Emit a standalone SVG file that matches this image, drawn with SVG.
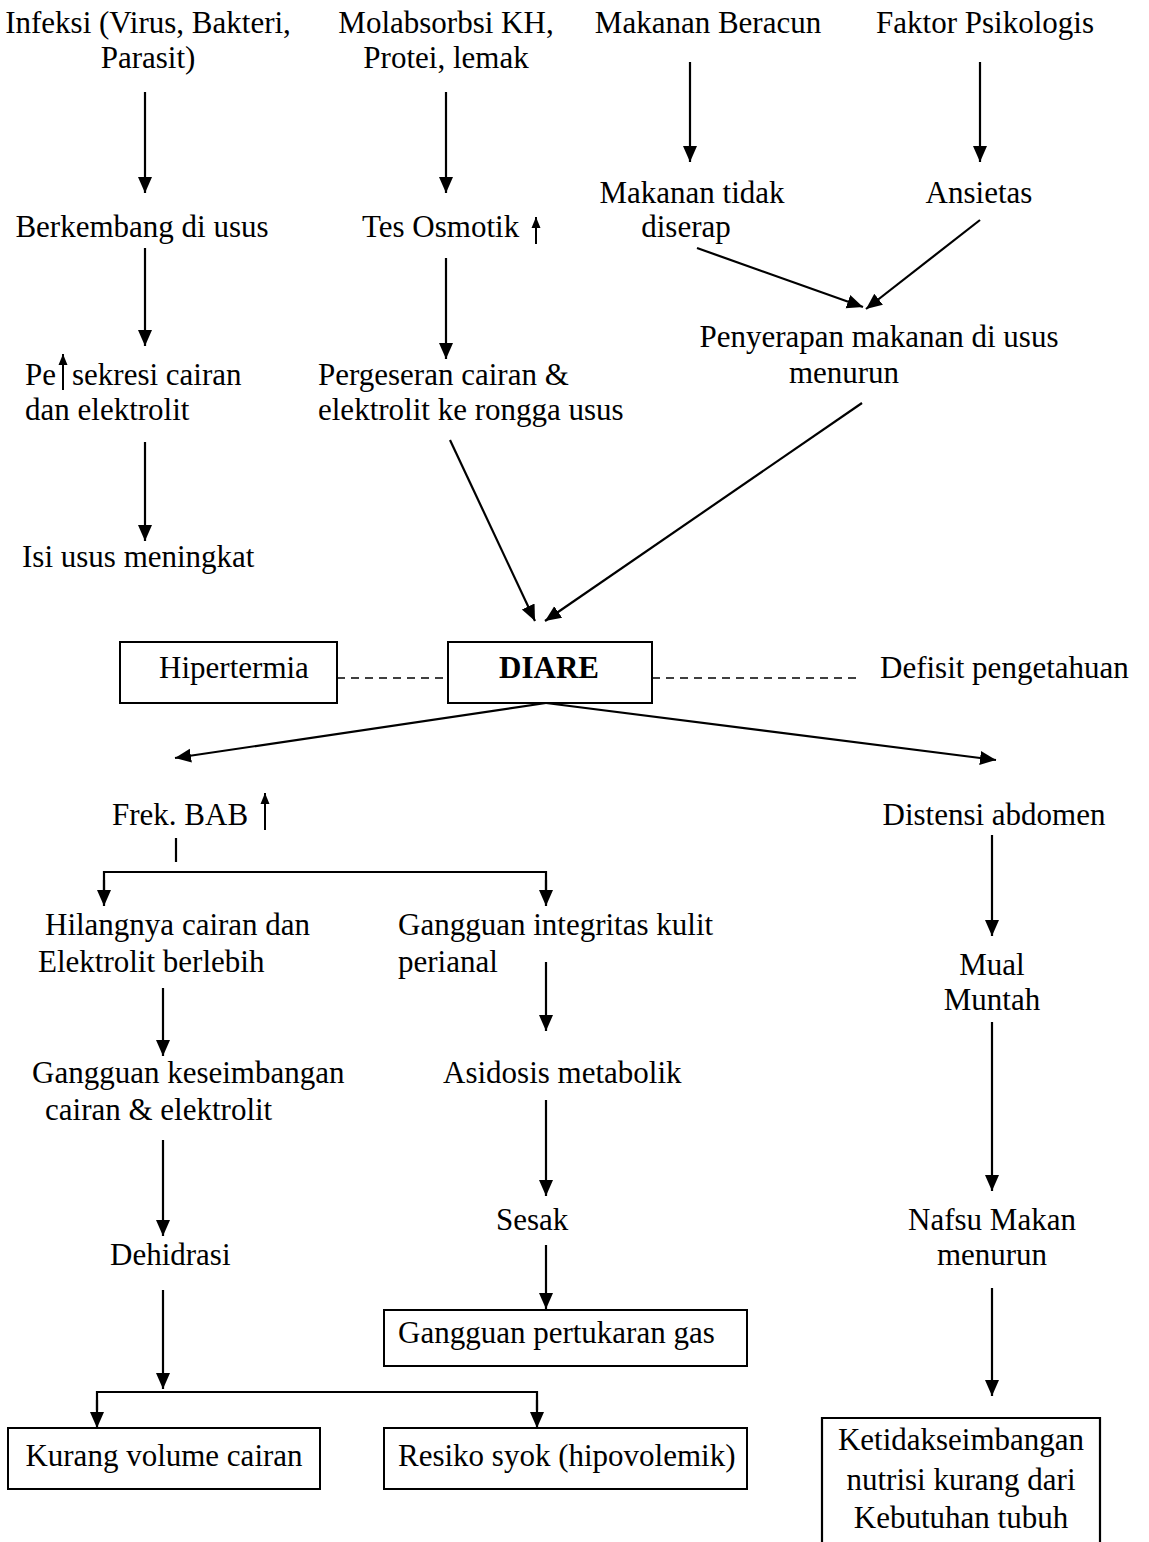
<svg xmlns="http://www.w3.org/2000/svg" width="1149" height="1542" viewBox="0 0 1149 1542">
<style>
text{font-family:"Liberation Serif","Times New Roman",serif;font-size:31px;fill:#000}
.c{text-anchor:middle}
.b{font-weight:bold}
.ln{stroke:#000;stroke-width:2.2;fill:none}
.ar{stroke:#000;stroke-width:2.2;fill:none;marker-end:url(#ah)}
.up{stroke:#000;stroke-width:2;fill:none;marker-end:url(#uh)}
.dash{stroke:#000;stroke-width:1.5;stroke-dasharray:8,6;fill:none}
.box{fill:#fff;stroke:#000;stroke-width:2}
</style>
<defs>
<marker id="ah" markerWidth="16" markerHeight="16" refX="16" refY="8" orient="auto" markerUnits="userSpaceOnUse"><path d="M0,1 L16,8 L0,15 z" fill="#000"/></marker>
<marker id="uh" markerWidth="11" markerHeight="10" refX="11" refY="5" orient="auto" markerUnits="userSpaceOnUse"><path d="M0,0.5 L11,5 L0,9.5 z" fill="#000"/></marker>
</defs>
<rect width="1149" height="1542" fill="#fff"/>

<g id="connectors">
<line class="ar" x1="145" y1="92" x2="145" y2="193"/>
<line class="ar" x1="446" y1="92" x2="446" y2="193"/>
<line class="ar" x1="690" y1="62" x2="690" y2="162"/>
<line class="ar" x1="980" y1="62" x2="980" y2="162"/>
<line class="ar" x1="697" y1="248" x2="863" y2="307"/>
<line class="ar" x1="980" y1="220" x2="866" y2="309"/>
<line class="ar" x1="145" y1="248" x2="145" y2="346"/>
<line class="ar" x1="446" y1="258" x2="446" y2="359"/>
<line class="ar" x1="145" y1="442" x2="145" y2="541"/>
<line class="ar" x1="450" y1="440" x2="535" y2="621"/>
<line class="ar" x1="862" y1="403" x2="545" y2="621"/>
<line class="dash" x1="337" y1="678" x2="448" y2="678"/>
<line class="dash" x1="652" y1="678" x2="858" y2="678"/>
<line class="ar" x1="546" y1="703" x2="175" y2="758"/>
<line class="ar" x1="546" y1="703" x2="996" y2="760"/>
<line class="ln" x1="176" y1="838" x2="176" y2="862"/>
<polyline class="ln" points="104,893 104,872 546,872 546,893"/>
<line class="ar" x1="104" y1="880" x2="104" y2="906"/>
<line class="ar" x1="546" y1="880" x2="546" y2="906"/>
<line class="ar" x1="163" y1="988" x2="163" y2="1056"/>
<line class="ar" x1="546" y1="962" x2="546" y2="1031"/>
<line class="ar" x1="163" y1="1140" x2="163" y2="1236"/>
<line class="ar" x1="546" y1="1100" x2="546" y2="1196"/>
<line class="ar" x1="546" y1="1245" x2="546" y2="1309"/>
<line class="ar" x1="163" y1="1290" x2="163" y2="1389"/>
<polyline class="ln" points="97,1410 97,1392 537,1392 537,1410"/>
<line class="ar" x1="97" y1="1400" x2="97" y2="1428"/>
<line class="ar" x1="537" y1="1400" x2="537" y2="1428"/>
<line class="ar" x1="992" y1="835" x2="992" y2="936"/>
<line class="ar" x1="992" y1="1022" x2="992" y2="1191"/>
<line class="ar" x1="992" y1="1288" x2="992" y2="1396"/>
</g>

<g id="n-infeksi"><text class="c" x="148" y="33">Infeksi (Virus, Bakteri,</text><text class="c" x="148" y="68">Parasit)</text></g>
<g id="n-molabsorbsi"><text class="c" x="446" y="33">Molabsorbsi KH,</text><text class="c" x="446" y="68">Protei, lemak</text></g>
<g id="n-makanan-beracun"><text class="c" x="708" y="33">Makanan Beracun</text></g>
<g id="n-faktor"><text class="c" x="985" y="33">Faktor Psikologis</text></g>
<g id="n-berkembang"><text class="c" x="142" y="237">Berkembang di usus</text></g>
<g id="n-tes-osmotik"><text x="362" y="237">Tes Osmotik</text><line class="up" x1="536" y1="244" x2="536" y2="217"/></g>
<g id="n-makanan-tidak"><text class="c" x="692" y="203">Makanan tidak</text><text class="c" x="686" y="237">diserap</text></g>
<g id="n-ansietas"><text class="c" x="979" y="203">Ansietas</text></g>
<g id="n-penyerapan"><text class="c" x="879" y="347">Penyerapan makanan di usus</text><text class="c" x="844" y="383">menurun</text></g>
<g id="n-sekresi"><text x="25" y="385">Pe</text><line class="up" x1="63" y1="390" x2="63" y2="354"/><text x="72" y="385">sekresi cairan</text><text x="25" y="420">dan elektrolit</text></g>
<g id="n-pergeseran"><text x="318" y="385">Pergeseran cairan &amp;</text><text x="318" y="420">elektrolit ke rongga usus</text></g>
<g id="n-isi-usus"><text x="22" y="567">Isi usus meningkat</text></g>
<g id="n-hipertermia"><rect class="box" x="120" y="642" width="217" height="61"/><text class="c" x="234" y="678">Hipertermia</text></g>
<g id="n-diare"><rect class="box" x="448" y="642" width="204" height="61"/><text class="c b" x="549" y="678">DIARE</text></g>
<g id="n-defisit"><text x="880" y="678">Defisit pengetahuan</text></g>
<g id="n-frek-bab"><text x="112" y="825">Frek. BAB</text><line class="up" x1="265" y1="830" x2="265" y2="793"/></g>
<g id="n-distensi"><text class="c" x="994" y="825">Distensi abdomen</text></g>
<g id="n-hilangnya"><text x="45" y="935">Hilangnya cairan dan</text><text x="38" y="972">Elektrolit berlebih</text></g>
<g id="n-integritas"><text x="398" y="935">Gangguan integritas kulit</text><text x="398" y="972">perianal</text></g>
<g id="n-keseimbangan"><text x="32" y="1083">Gangguan keseimbangan</text><text x="45" y="1120">cairan &amp; elektrolit</text></g>
<g id="n-asidosis"><text x="443" y="1083">Asidosis metabolik</text></g>
<g id="n-dehidrasi"><text x="110" y="1265">Dehidrasi</text></g>
<g id="n-sesak"><text x="496" y="1230">Sesak</text></g>
<g id="n-pertukaran-gas"><rect class="box" x="384" y="1310" width="363" height="56"/><text x="398" y="1343">Gangguan pertukaran gas</text></g>
<g id="n-kurang-volume"><rect class="box" x="8" y="1428" width="312" height="61"/><text class="c" x="164" y="1466">Kurang volume cairan</text></g>
<g id="n-resiko-syok"><rect class="box" x="384" y="1428" width="363" height="61"/><text x="398" y="1466">Resiko syok (hipovolemik)</text></g>
<g id="n-mual"><text class="c" x="992" y="975">Mual</text><text class="c" x="992" y="1010">Muntah</text></g>
<g id="n-nafsu"><text class="c" x="992" y="1230">Nafsu Makan</text><text class="c" x="992" y="1265">menurun</text></g>
<g id="n-ketidakseimbangan"><path class="ln" d="M822,1545 L822,1418 L1100,1418 L1100,1545"/><text class="c" x="961" y="1450">Ketidakseimbangan</text><text class="c" x="961" y="1490">nutrisi kurang dari</text><text class="c" x="961" y="1528">Kebutuhan tubuh</text></g>
</svg>
